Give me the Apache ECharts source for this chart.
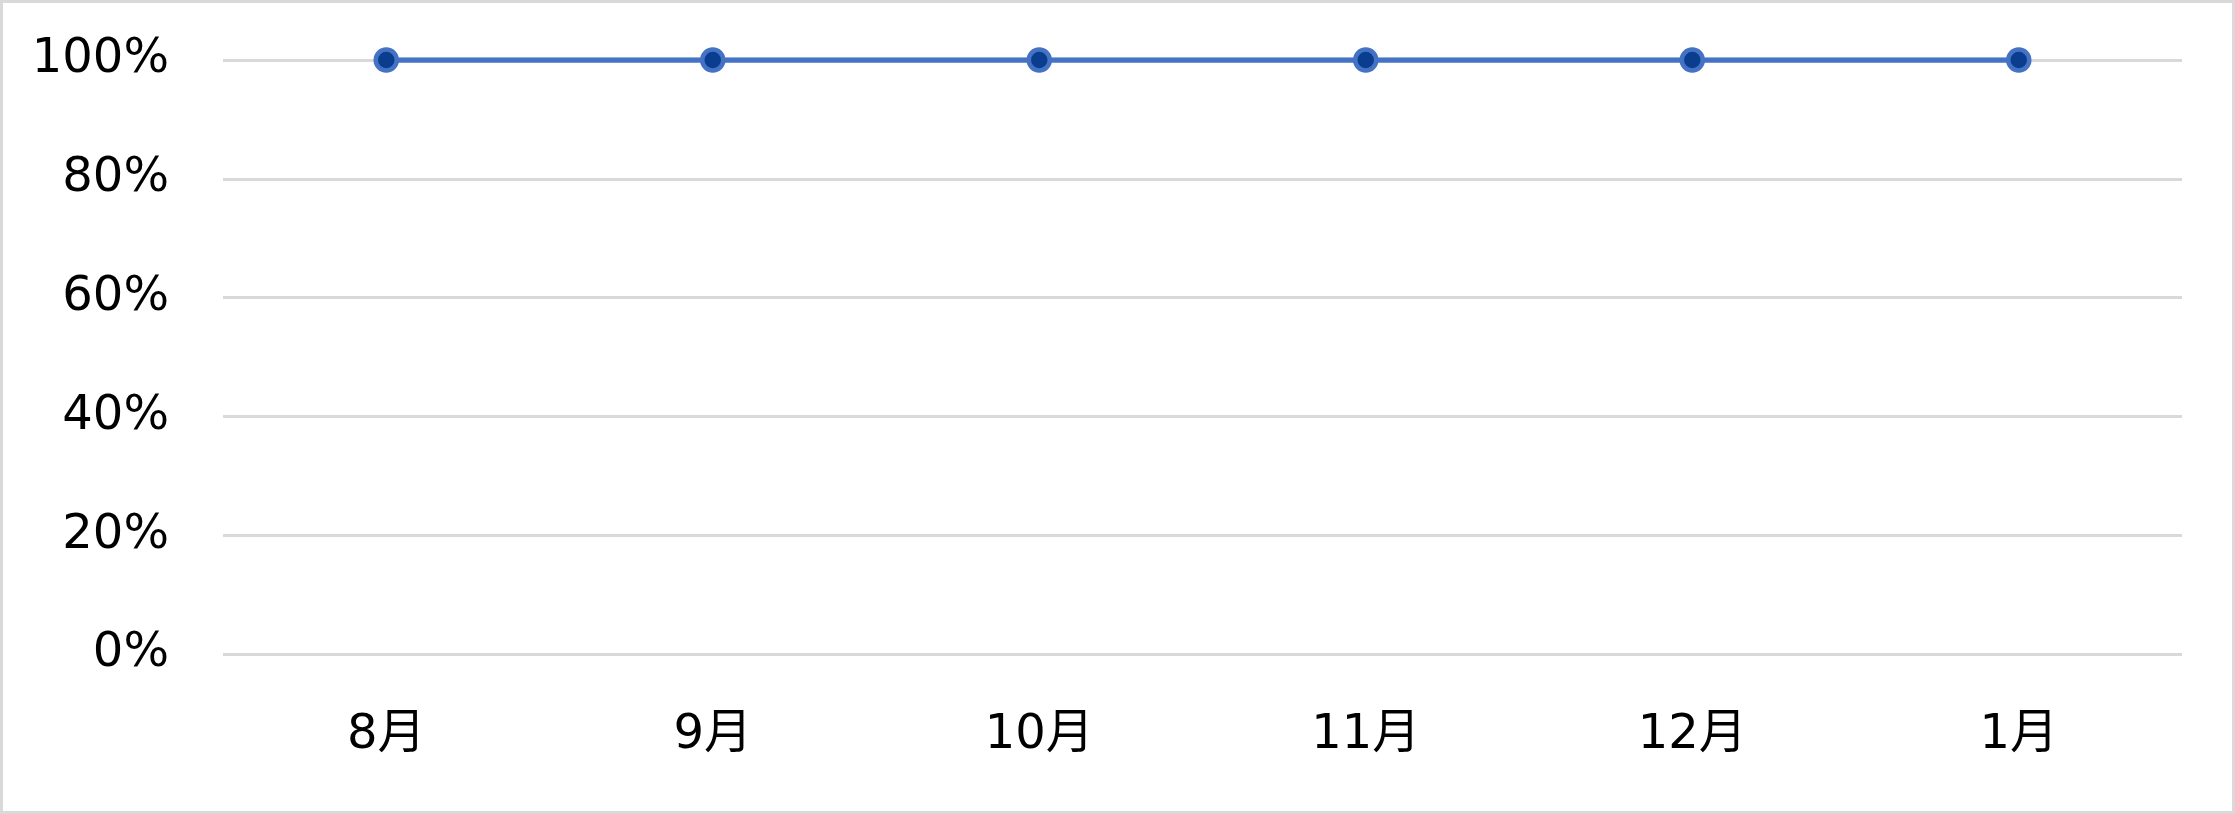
<!DOCTYPE html>
<html>
<head>
<meta charset="utf-8">
<script src="https://cdn.jsdelivr.net/npm/echarts@6/dist/echarts.min.js"></script>
<style>
html, body { margin: 0; padding: 0; background: #fff; }
#main { width: 2229px; height: 808px; border: 3px solid #d9d9d9; }
</style>
</head>
<body>
<div id="main"></div>
<script>
// 月ごとの値（すべて100%）
var months = ['8月', '9月', '10月', '11月', '12月', '1月'];
var rates = [1, 1, 1, 1, 1, 1];
var yMin = 0;
var yMax = 1;
var yStep = 0.2;

var chart = echarts.init(document.getElementById('main'));
var labelFont = {
    fontFamily: '"DejaVu Sans", "Noto Sans CJK JP", sans-serif',
    fontSize: 48,
    color: '#000'
};

var option = {
    animation: false,
    grid: {
        left: 220,
        right: 50,
        top: 57,
        bottom: 157
    },
    xAxis: {
        type: 'category',
        data: months,
        boundaryGap: true,
        axisLine: { show: false },
        axisTick: { show: false },
        axisLabel: Object.assign({ margin: 58 }, labelFont)
    },
    yAxis: {
        type: 'value',
        min: yMin,
        max: yMax,
        interval: yStep,
        axisLine: { show: false },
        axisTick: { show: false },
        splitLine: {
            lineStyle: { color: '#d9d9d9', width: 3 }
        },
        axisLabel: Object.assign({
            margin: 54,
            formatter: function (v) {
                return Math.round(v * 100) + '%';
            }
        }, labelFont)
    },
    series: [
        {
            type: 'line',
            data: rates,
            symbol: 'circle',
            symbolSize: 21,
            lineStyle: { color: '#4472C4', width: 5.5 },
            itemStyle: {
                color: '#0B3D8F',
                borderColor: '#4472C4',
                borderWidth: 4.5
            }
        }
    ]
};
chart.setOption(option);
</script>
</body>
</html>
